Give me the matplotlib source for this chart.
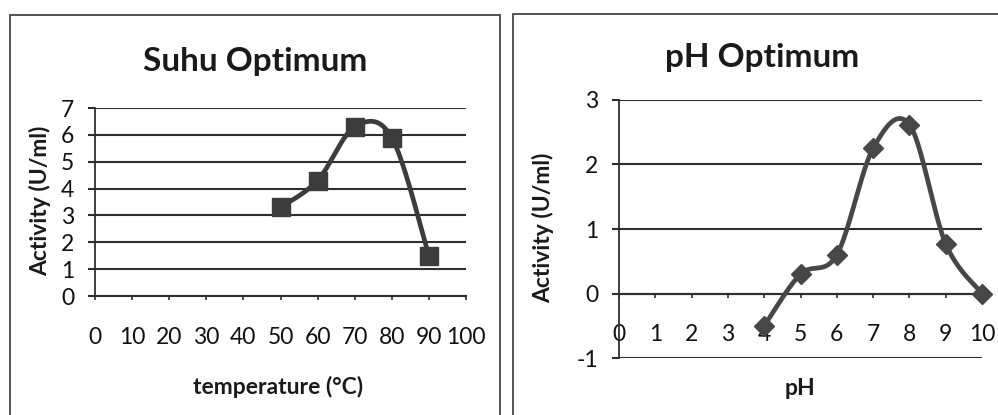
import numpy as np
import matplotlib
matplotlib.use("Agg")
import matplotlib.pyplot as plt
from matplotlib.patches import Rectangle

plt.rcParams['font.family'] = ['Lato', 'DejaVu Sans']
plt.rcParams['axes.unicode_minus'] = False

# Temperature optimum data
temp_c = [50, 60, 70, 80, 90]
temp_activity = [3.3, 4.3, 6.3, 5.9, 1.5]
temp_xticks = [0, 10, 20, 30, 40, 50, 60, 70, 80, 90, 100]
temp_yticks = [0, 1, 2, 3, 4, 5, 6, 7]

# pH optimum data
ph = [4, 5, 6, 7, 8, 9, 10]
ph_activity = [-0.5, 0.3, 0.6, 2.25, 2.62, 0.77, 0.0]
ph_xticks = [0, 1, 2, 3, 4, 5, 6, 7, 8, 9, 10]
ph_yticks = [-1, 0, 1, 2, 3]

INK = '#2e2e2e'
LINE = '#3c3c3c'


def smooth_curve(x, y, n=40):
    """Spreadsheet-style smoothed line: cubic Bezier through each point."""
    pts = np.column_stack([x, y]).astype(float)
    P = np.vstack([pts[0], pts, pts[-1]])
    segs = []
    t = np.linspace(0, 1, n)[:, None]
    for i in range(len(pts) - 1):
        p0, p1, p2, p3 = P[i], P[i + 1], P[i + 2], P[i + 3]
        c1 = p1 + (p2 - p0) / 6.0
        c2 = p2 - (p3 - p1) / 6.0
        seg = ((1 - t) ** 3) * p1 + 3 * ((1 - t) ** 2) * t * c1 \
            + 3 * (1 - t) * (t ** 2) * c2 + (t ** 3) * p2
        segs.append(seg if i == 0 else seg[1:])
    return np.vstack(segs)


W, H = 998, 415
fig = plt.figure(figsize=(W / 100, H / 100), dpi=100)


def fx(px):
    return px / W


def fy(py):
    return 1 - py / H


# panel frames
for (x0, y0, x1, y1) in [(10, 15, 500, 430), (513, 14, 1010, 430)]:
    fig.patches.append(Rectangle((fx(x0), fy(y1)), fx(x1 - x0), (y1 - y0) / H,
                                 transform=fig.transFigure, fill=False,
                                 edgecolor='#444444', linewidth=1.3))


def style_axes(ax, xticks, yticks, xlim, ylim):
    ax.set_xlim(*xlim)
    ax.set_ylim(*ylim)
    ax.set_xticks(xticks)
    ax.set_yticks(yticks)
    for s in ['top', 'right']:
        ax.spines[s].set_visible(False)
    ax.spines['left'].set_color(INK)
    ax.spines['left'].set_linewidth(1.3)
    ax.spines['bottom'].set_color(INK)
    ax.spines['bottom'].set_linewidth(1.5)
    ax.spines['bottom'].set_position(('data', 0))
    ax.grid(axis='y', color=INK, linewidth=1.5)
    ax.set_axisbelow(True)
    ax.tick_params(axis='y', direction='out', length=5, width=1.5, color=INK,
                   pad=10, labelsize=16.5, labelcolor='#111111')
    ax.tick_params(axis='x', direction='out', length=3, width=1.2, color=INK,
                   pad=19, labelsize=16.5, labelcolor='#111111')
    ax.patch.set_alpha(0)


# left: temperature
ax1 = fig.add_axes([fx(95), fy(296), fx(466 - 95), (296 - 108) / H])
style_axes(ax1, temp_xticks, temp_yticks, (0, 100), (0, 7))
c = smooth_curve(temp_c, temp_activity)
ax1.plot(c[:, 0], c[:, 1], color=LINE, linewidth=3.4, solid_capstyle='round',
         zorder=3, clip_on=False)
ax1.plot(temp_c, temp_activity, linestyle='none', marker='s', markersize=13,
         markerfacecolor=LINE, markeredgecolor=LINE, zorder=4, clip_on=False)

# right: pH
ax2 = fig.add_axes([fx(619), fy(358), fx(982 - 619), (358 - 100) / H])
style_axes(ax2, ph_xticks, ph_yticks, (0, 10), (-1, 3))
c = smooth_curve(ph, ph_activity)
ax2.plot(c[:, 0], c[:, 1], color='#474747', linewidth=3.4, solid_capstyle='round',
         zorder=3, clip_on=False)
ax2.plot(ph, ph_activity, linestyle='none', marker='D', markersize=10,
         markerfacecolor='#474747', markeredgecolor='#474747', zorder=4, clip_on=False)

# titles and axis labels
fig.text(fx(255), fy(62), 'Suhu Optimum', ha='center', va='center',
         fontsize=24, fontweight='bold', color='#1a1a1a')
fig.text(fx(762), fy(57), 'pH Optimum', ha='center', va='center',
         fontsize=24, fontweight='bold', color='#1a1a1a')
fig.text(fx(40), fy(201), 'Activity (U/ml)', ha='center', va='center', rotation=90,
         fontsize=16.5, fontweight='bold', color='#1a1a1a')
fig.text(fx(543), fy(228), 'Activity (U/ml)', ha='center', va='center', rotation=90,
         fontsize=16.5, fontweight='bold', color='#1a1a1a')
fig.text(fx(278), fy(387), 'temperature (°C)', ha='center', va='center',
         fontsize=16.5, fontweight='bold', color='#1a1a1a')
fig.text(fx(800), fy(388), 'pH', ha='center', va='center',
         fontsize=16.5, fontweight='bold', color='#1a1a1a')

fig.savefig('out.png', dpi=100)
